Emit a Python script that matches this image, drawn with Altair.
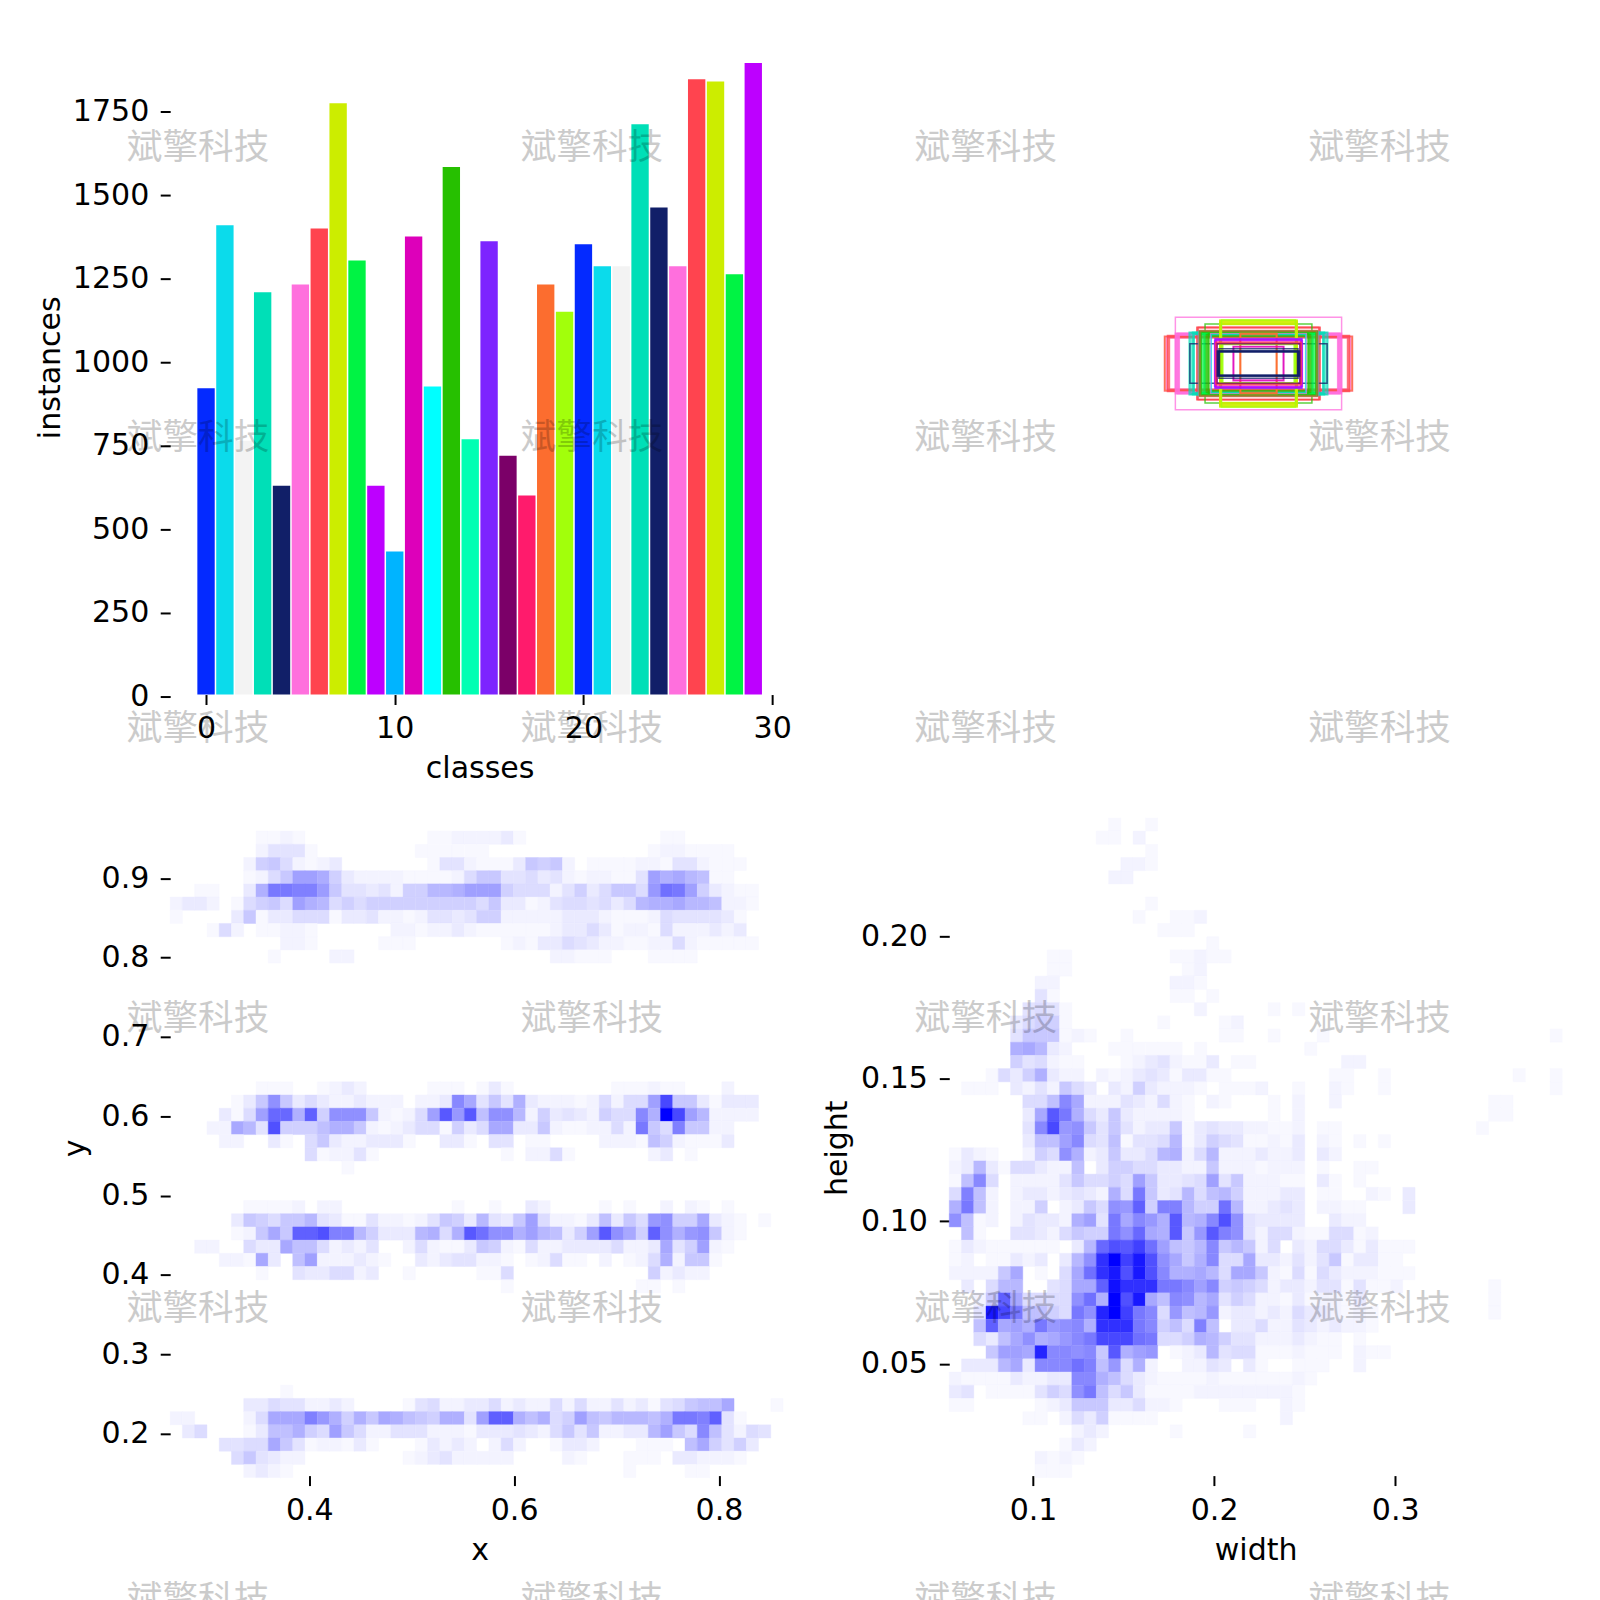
import altair as alt
import pandas as pd

PALETTE = ["#042AFF","#0BDBEB","#F3F3F3","#00DFB7","#111F68","#FF6FDD","#FF444F","#CCED00","#00F344","#BD00FF",
           "#00B4FF","#DD00BA","#00FFFF","#26C000","#01FFB3","#7D24FF","#7B0068","#FF1B6C","#FC6D2F","#A2FF0B"]

INSTANCES = [917,1405,760,1204,625,1227,1395,1770,1299,625,428,1371,922,1579,764,1357,715,596,1227,1146,
             1348,1282,1282,1707,1458,1282,1842,1835,1258,1890]

# (width, height, class) of the overlaid label boxes, in units of a 1000-wide canvas
BOXES = [(252,140,5),(285,83,6),(283,80,18),(279,78,25),(276,85,26),(274,82,6),(270,78,6),
         (252,92,5),(250,90,25),(248,88,5),(246,92,25),(244,90,5),(242,86,5),(240,90,25),
         (187,110,6),(185,108,26),(183,110,6),(162,120,13),
         (210,95,3),(205,92,23),(200,95,3),(197,90,23),(195,88,3),(208,60,4),
         (182,98,1),(178,95,21),(176,92,12),
         (175,92,8),(172,88,28),(168,96,8),(165,92,28),(162,90,8),(155,85,13),(152,90,13),(150,82,13),(158,88,13),
         (145,92,5),(143,88,1),(180,100,6),(178,98,13),(176,97,6),(174,95,13),
         (117,132,7),(117,130,27),(116,128,7),(116,126,27),(115,124,7),(115,122,27),(113,120,7),(114,118,27),(112,132,19),
         (55,90,18),(54,88,18),(56,92,18),
         (132,75,15),(130,73,15),(128,72,9),(133,70,9),
         (110,60,19),(108,62,19),(112,58,19),(130,62,6),(128,65,17),(125,60,16),
         (77,52,11),(75,50,11),
         (125,38,4),(123,37,24),(121,36,4),(120,35,24),(118,38,4),(120,45,4)]

# heat cells: (row from top, first column, levels in base 36: 0 = white, z = full blue)
XY_CELLS = [
 (1,7,"1121"+"0000000000"+"11222231"+"00000000000"+"11"),
 (2,7,"24441"+"00000000"+"111111"+"0000000000000"+"1221111"),
 (3,6,"26752123"+"0000000"+"14421113"+"7672"+"0"+"1111"+"22"+"1"+"44"+"2"+"111"),
 (4,6,"1257eec632222111125"+"7744534212211"+"4ebda811"),
 (5,2,"1100"+"3"+"b"+"ll"+"jj"+"f"+"7"+"44"+"3"+"4"+"2"+"66"+"aa"+"b"+"eee"+"6"+"555"+"2"+"4"+"6"+"3"+"5"+"77"+"5"+"g"+"m"+"l"+"e"+"6"+"3"+"2"+"11"),
 (6,0,"2332015675eba565"+"666666666"+"5733124554535abbdaa8221"),
 (7,0,"1000037133555133422124434"+"6622222333211125444431"),
 (8,3,"152011221"+"000000"+"2212232"+"111111"+"233531221"+"5222323"),
 (9,9,"221"+"00000"+"111"+"0000000"+"121335432211"+"225211111"),
 (10,8,"1"+"0000"+"22"+"0000000000000000"+"22111"+"000"+"1111"),
 (20,7,"111001232"+"00000"+"1110131"+"00000000"+"111211"+"000"+"2"),
 (21,5,"137h73532232220223id"+"474b322212"+"5255es7731333"),
 (22,4,"315eoobp6hhh72125eqgq"+"8hha263432655ibzsea2222"),
 (23,3,"22da4r6668bb7212355163"+"5dd3372112252l75j7722"),
 (24,4,"2200310573223331"+"00"+"331"+"044"+"011"+"0000"+"2221"+"862111"+"3"),
 (25,11,"512241"+"0000000000"+"102251"+"000000"+"2301"),
 (26,14,"1"),
 (29,6,"11112022"+"000000000"+"100100"+"32"+"0000"+"101"+"00"+"202101"),
 (30,5,"3765"+"77a4"+"3114"+"2212"+"4763"+"a437e52213837"+"5gh66d32101"),
 (31,5,"127d7pprjja6333ab5bq"+"mhhbea836eqhd6phbgh721"),
 (32,2,"2200"+"533d"+"8852"+"324"+"00"+"252113"+"762152233335223d46e21"),
 (33,4,"221d308e222321"+"00"+"32344"+"2210125110"+"2012"+"5b2771"),
 (34,7,"100"+"4335523"+"00"+"1"+"00000"+"115"+"00000000000"+"62322"),
 (35,27,"1"+"0000000000"+"11"+"0"+"1"),
 (43,9,"1"),
 (44,6,"335442232"+"0000"+"1452233"+"5232252522423145788d"+"000"+"1"),
 (45,0,"220000"+"25dddjgb6b7db876bb4"+"eppb8b56e87aaa8blljp41"),
 (46,1,"35"+"000"+"13"+"88b65e75"+"224442221"+"3334325747"+"2233ae75i8"+"4254"),
 (47,4,"4455d74122131"+"000"+"13232"+"0"+"252"+"00"+"1332"+"000"+"111"+"0"+"8d6463"),
 (48,5,"574322"+"00000000"+"123422222"+"0000"+"21"+"000"+"111"+"0"+"332221"),
 (49,6,"2321"),(49,37,"1"),(49,42,"11"),
]

WH_CELLS = [
 (0,13,"1001"),(1,12,"1102"),(2,16,"1"),(3,14,"221"),(4,13,"22"),(6,16,"1"),(7,15,"100112"),(8,17,"111"),(9,21,"1"),
 (10,8,"11"),(10,18,"11211"),(11,8,"11"),(11,19,"12"),(12,7,"22"),(12,18,"221"),(13,7,"41"),(13,18,"11"),(13,21,"1"),
 (14,6,"4541"),(14,20,"2"),(15,5,"35661"),(15,17,"1"),(15,22,"12"),(16,5,"4777121"),(16,14,"1"),(16,22,"11"),
 (17,5,"bda32"),(17,13,"11111101"),(18,5,"645211"),(18,14,"12342113011"),(19,3,"1536b322021234313311"),
 (20,1,"111032427530326322210111"),(21,6,"558id222432521021"),(22,6,"3dqlb537322221"),
 (23,6,"4isgh74742337134332"),(24,6,"388ei5481445a136541"),(25,0,"132100265hb237335ab25a222"),
 (26,0,"23a31"+"55322"+"80366"+"55332"+"27222"),(27,0,"18i50"+"22224"+"75565"+"e7334"+"5e472"),
 (28,0,"5j820"+"23323"+"432b5"+"l734a"+"58a62"),(29,0,"bl820"+"22602"+"375hg"+"p6jja"+"66ma2"),
 (30,0,"h8120"+"24332"+"be4ld"+"igbqa"+"birh4"),(31,0,"08100"+"44325"+"766lh"+"odbq7"+"gqjh4"),
 (32,0,"13211"+"11110"+"3aorq"+"tme87"+"ai7a7"),(33,0,"12011"+"32303"+"ahuzt"+"wrhd7"+"bi55d"),
 (34,0,"22227"+"d0105"+"dmuwr"+"wribb"+"da5dd"),(35,0,"0305a"+"a0045"+"ddpxu"+"uulli"+"ei676"),
 (36,0,"0027p"+"d5555"+"hmbzr"+"wd8ih"+"ad465"),(37,0,"004ws"+"l8865"+"lhvzt"+"li5g8"+"ag233"),
 (38,0,"008pd"+"eblgh"+"ibuuu"+"li685"+"j8033"),(39,0,"00538"+"dhbdg"+"ilsss"+"ml556"+"ba644"),
 (40,0,"0007e"+"edvii"+"hi7qb"+"eg012"+"3a455"),(41,0,"0333a"+"d3iii"+"mj8g5"+"b2002"+"24303"),
 (42,0,"21111"+"32233"+"iib85"+"32111"+"12111"),(43,0,"34011"+"11465"+"hl857"+"31111"+"22222"),
 (44,0,"11000"+"00123"+"77733"+"52210"+"00111"),(45,6,"11025361111"),(46,10,"232"),(46,18,"1"),(46,24,"1"),
 (47,9,"132"),(48,7,"2121"),(49,7,"111"),
 (14,26,"101"),(16,26,"10001"),(16,49,"1"),(17,29,"1"),(18,32,"22"),(19,31,"11"),(19,35,"1"),(19,46,"1"),(19,49,"1"),
 (20,25,"2"),(20,28,"1"),(20,31,"21"),(20,35,"1"),(20,49,"1"),(21,26,"1"),(21,28,"2"),(21,31,"2"),(21,44,"11"),
 (22,26,"1"),(22,28,"2"),(22,44,"11"),(23,25,"2112"),(23,30,"11"),(23,43,"1"),(24,25,"12130210101"),(25,25,"3223032"),
 (26,25,"1222010011"),(27,25,"221103101"),(28,25,"2233011002103"),(29,25,"2343022110003"),(30,25,"333300322"),
 (31,25,"2552115512"),(32,25,"2503255313111"),(33,25,"332424713311"),(34,25,"7215153222111"),(35,25,"523324414112"),
 (35,44,"1"),(36,25,"221312213"),(36,44,"1"),(37,25,"2325332121"),(37,44,"1"),(38,25,"5224323221"),(39,25,"222321101"),
 (40,25,"11121110211"),(41,25,"100111002"),(42,25,"11121"),(43,25,"2221"),(44,27,"21"),(45,27,"2"),
]

# level -> colour stops of the density ramp
LEVEL_STOPS = [0,1,2,3,4,5,6,7,8,10,11,13,14,16,17,18,19,21,22,24,25,26,27,28,29,30,32,33,35]
LEVEL_SHADE = ["ff","f8","f3","ea","e3","dc","d0","c8","c0","b8","b0","a8","a0","98","90","88","80","78","70",
               "68","60","58","50","48","40","30","18","10","00"]

WATERMARK = "斌擎科技"
WM_COLS = [0, 1, 2, 3]
WM_ROWS = [0, 1, 2, 3, 4, 5]

XY_X_DOMAIN = [0.2642, 0.8626]
XY_Y_DOMAIN = [0.1443, 0.9762]
WH_X_DOMAIN = [0.0537, 0.3922]
WH_Y_DOMAIN = [0.0101, 0.2415]
BINS = 50

H = 1592
FONT = "DejaVu Sans"
FS = 30.2


def axis(title, values, orient, pos, fmt=None, pad=12, tpad=10, **extra):
    kw = dict(title=title, values=values, orient=orient, domain=False, grid=False, tickSize=10, tickWidth=2,
              tickColor="#000", labelColor="#000", titleColor="#000", labelFont=FONT, titleFont=FONT,
              labelFontSize=FS, titleFontSize=FS, titleFontWeight="normal", labelPadding=pad, titlePadding=tpad,
              labelOverlap=False, labelFlush=False, labelBound=False,
              offset=(-pos if orient == "left" else pos - H))
    if fmt:
        kw["format"] = fmt
    kw.update(extra)
    return alt.Axis(**kw)


def cells(spec, xdom, ydom):
    grid = {}
    for r, c, s in spec:
        for i, ch in enumerate(s):
            if ch != "0":
                grid[(r, c + i)] = int(ch, 36)
    dx = (xdom[1] - xdom[0]) / BINS
    dy = (ydom[1] - ydom[0]) / BINS
    return pd.DataFrame([
        dict(x0=xdom[0] + c * dx, x1=xdom[0] + (c + 1) * dx, y1=ydom[1] - r * dy, y0=ydom[1] - (r + 1) * dy, v=v)
        for (r, c), v in grid.items()])


def heat(df, xdom, ydom, xr, yr, xax, yax):
    lvl = alt.Scale(domain=LEVEL_STOPS, range=[f"#{s}{s}ff" for s in LEVEL_SHADE], interpolate="rgb")
    return alt.Chart(df).mark_rect(strokeWidth=0.4).encode(
        x=alt.X("x0:Q", scale=alt.Scale(domain=xdom, range=xr, nice=False, zero=False), axis=xax),
        x2="x1:Q",
        y=alt.Y("y0:Q", scale=alt.Scale(domain=ydom, range=yr, nice=False, zero=False), axis=yax),
        y2="y1:Q",
        fill=alt.Fill("v:Q", scale=lvl, legend=None),
        stroke=alt.Stroke("v:Q", scale=lvl, legend=None),
    )


bars_df = pd.DataFrame({
    "x0": [i - 0.46 for i in range(len(INSTANCES))],
    "x1": [i + 0.46 for i in range(len(INSTANCES))],
    "n": INSTANCES,
    "c": [PALETTE[i % 20] for i in range(len(INSTANCES))],
})
bars = alt.Chart(bars_df).mark_rect().encode(
    x=alt.X("x0:Q", scale=alt.Scale(domain=[-1.9, 30.58], range=[163, 779], nice=False, zero=False),
            axis=axis("classes", [0, 10, 20, 30], "bottom", 686, "d", pad=9.5, tpad=10, titleX=474)),
    x2="x1:Q",
    y=alt.Y("n:Q", scale=alt.Scale(domain=[0, 1976], range=[686, 22.5], nice=False, zero=False),
            axis=axis("instances", list(range(0, 2000, 250)), "left", 163, "d", pad=11.5, tpad=7,
                      tickOffset=2, titleY=357)),
    color=alt.Color("c:N", scale=None, legend=None),
)

box_df = pd.DataFrame({
    "x0": [500 - b[0] / 2 for b in BOXES], "x1": [500 + b[0] / 2 for b in BOXES],
    "y0": [500 - b[1] / 2 for b in BOXES], "y1": [500 + b[1] / 2 for b in BOXES],
    "c": [PALETTE[b[2] % 20] for b in BOXES],
})
boxes = alt.Chart(box_df).mark_rect(fillOpacity=0, strokeWidth=1.5, strokeOpacity=0.75).encode(
    x=alt.X("x0:Q", scale=alt.Scale(domain=[0, 1000], range=[925.3, 1588.3], nice=False, zero=False), axis=None),
    x2="x1:Q",
    y=alt.Y("y0:Q", scale=alt.Scale(domain=[0, 1000], range=[21.8, 684.8], nice=False, zero=False), axis=None),
    y2="y1:Q",
    stroke=alt.Stroke("c:N", scale=None, legend=None),
)

xy = heat(cells(XY_CELLS, XY_X_DOMAIN, XY_Y_DOMAIN), XY_X_DOMAIN, XY_Y_DOMAIN, [163, 779], [1473, 810],
          axis("x", [0.4, 0.6, 0.8], "bottom", 1471, ".1f", pad=10, tpad=10, titleX=474),
          axis("y", [0.2, 0.3, 0.4, 0.5, 0.6, 0.7, 0.8, 0.9], "left", 163, ".1f", pad=11.5, tpad=10.5))
wh = heat(cells(WH_CELLS, WH_X_DOMAIN, WH_Y_DOMAIN), WH_X_DOMAIN, WH_Y_DOMAIN, [946, 1562], [1473, 810],
          axis("width", [0.1, 0.2, 0.3], "bottom", 1471, ".1f", pad=10, tpad=10),
          axis("height", [0.05, 0.10, 0.15, 0.20], "left", 946, ".2f", tpad=8))

wm_df = pd.DataFrame([dict(c=c, r=r, t=WATERMARK) for r in WM_ROWS for c in WM_COLS])
marks = alt.Chart(wm_df).mark_text(font="Noto Sans CJK SC", fontSize=35.8, color="#000", opacity=0.2,
                                   align="center", baseline="middle").encode(
    x=alt.X("c:Q", scale=alt.Scale(domain=[0, 3], range=[191, 1378.6], nice=False, zero=False), axis=None),
    y=alt.Y("r:Q", scale=alt.Scale(domain=[0, 5], range=[136.5, 1596], nice=False, zero=False), axis=None),
    text="t:N",
)

chart = alt.layer(bars, boxes, xy, wh, marks).resolve_scale(
    x="independent", y="independent", color="independent", fill="independent", stroke="independent"
).properties(
    width=1592, height=H, padding=0, background="white",
    autosize=alt.AutoSizeParams(type="none"),
).configure_view(stroke=None)

chart.save("out.html", embed_options={"renderer": "svg", "actions": False})
